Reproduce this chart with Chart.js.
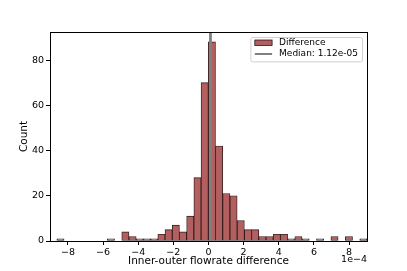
<!DOCTYPE html>
<html><head><meta charset="utf-8">
<script src="https://cdn.jsdelivr.net/npm/chart.js@4/dist/chart.umd.min.js"></script>
<style>html,body{margin:0;padding:0;background:#fff}canvas{display:block}</style>
</head><body>
<canvas id="c" width="407" height="271"></canvas>
<script>
// ---- data (x in units of 1e-4) ----
const binCenters = [-8.425,-8.015,-7.604,-7.194,-6.783,-6.373,-5.963,-5.552,-5.142,-4.731,
  -4.321,-3.911,-3.500,-3.090,-2.679,-2.269,-1.859,-1.448,-1.038,-0.627,
  -0.217,0.193,0.604,1.014,1.425,1.835,2.245,2.656,3.066,3.477,
  3.887,4.297,4.708,5.118,5.529,5.939,6.349,6.760,7.170,7.581,
  7.991,8.401,8.812];
const counts = [1,0,0,0,0,0,0,1,0,4,
  2,1,1,1,3,5,7,4,11,28,
  70,88,42,21,20,9,5,5,2,2,
  3,3,1,2,1,0,1,0,2,0,
  2,0,1];
const medianX = [0.112];
const xTicks = [-8,-6,-4,-2,0,2,4,6,8];
const yTicks = [0,20,40,60,80];
const xLimits = [-9.02, 9.02];
const yLimits = [0, 92.4];
const seriesLabels = ['Difference', 'Median: 1.12e-05'];
const xTitle = 'Inner-outer flowrate difference';
const yTitle = 'Count';
const xOffsetText = '1e\u22124';

const FONT = "'DejaVu Sans', sans-serif";
Chart.defaults.font.family = FONT;
Chart.defaults.font.size = 9;
Chart.defaults.color = '#000';

const BAR_FILL = '#b35f5f';
const BAR_EDGE = 'rgba(30,8,8,0.9)';
const MED_COLOR = '#808080';

const fmt = v => v < 0 ? '\u2212' + Math.abs(v) : String(v);

const framePlugin = {
  id: 'frame',
  afterDatasetsDraw(chart) {
    const {ctx, chartArea: a} = chart;
    ctx.save();
    ctx.strokeStyle = '#000';
    ctx.lineWidth = 1;
    ctx.strokeRect(Math.round(a.left) + 0.5, Math.round(a.top) + 0.5,
      Math.round(a.right) - Math.round(a.left), Math.round(a.bottom) - Math.round(a.top));
    ctx.restore();
  },
  afterDraw(chart) {
    const {ctx, chartArea: a} = chart;
    ctx.save();
    // offset text
    ctx.font = '9.5px ' + FONT;
    ctx.fillStyle = '#000';
    ctx.textAlign = 'right';
    ctx.textBaseline = 'middle';
    ctx.fillText(xOffsetText, a.right, 259.5);
    // legend
    ctx.font = '9px ' + FONT;
    const ds = chart.data.datasets;
    const entries = [ds[1], ds[0]];
    const textW = Math.max(...entries.map(d => ctx.measureText(d.label).width));
    const w = 4.4 + 17.3 + 7 + textW + 4;
    const h = 24.4;
    const x0 = a.right - 5 - w, y0 = a.top + 5;
    ctx.beginPath();
    if (ctx.roundRect) ctx.roundRect(x0 + 0.5, y0 + 0.5, w, h, 2); else ctx.rect(x0 + 0.5, y0 + 0.5, w, h);
    ctx.fillStyle = 'rgba(255,255,255,0.85)';
    ctx.fill();
    ctx.strokeStyle = '#d0d0d0';
    ctx.lineWidth = 1;
    ctx.stroke();
    const hx = x0 + 4.4, hw = 17.3;
    // patch
    ctx.fillStyle = BAR_FILL;
    ctx.fillRect(hx, y0 + 3, hw, 5.5);
    ctx.strokeStyle = BAR_EDGE;
    ctx.lineWidth = 0.8;
    ctx.strokeRect(hx, y0 + 3, hw, 5.5);
    // line
    ctx.strokeStyle = MED_COLOR;
    ctx.lineWidth = 2;
    ctx.beginPath();
    ctx.moveTo(hx, y0 + 17);
    ctx.lineTo(hx + hw, y0 + 17);
    ctx.stroke();
    ctx.fillStyle = '#000';
    ctx.textAlign = 'left';
    ctx.fillText(entries[0].label, hx + hw + 7, y0 + 5.6);
    ctx.fillText(entries[1].label, hx + hw + 7, y0 + 17);
    ctx.restore();
  }
};

new Chart(document.getElementById('c'), {
  type: 'bar',
  data: {
    datasets: [
      {
        type: 'line',
        label: seriesLabels[1],
        data: [{x: medianX[0], y: yLimits[0]}, {x: medianX[0], y: yLimits[1]}],
        borderColor: MED_COLOR,
        borderWidth: 2.8,
        pointRadius: 0,
        order: 0
      },
      {
        type: 'bar',
        label: seriesLabels[0],
        data: binCenters.map((x, i) => ({x: x, y: counts[i]})),
        backgroundColor: BAR_FILL,
        borderColor: BAR_EDGE,
        borderWidth: 0.9,
        borderSkipped: false,
        barPercentage: 1,
        categoryPercentage: 1,
        order: 1
      }
    ]
  },
  options: {
    responsive: false,
    animation: false,
    layout: {padding: {top: 32, right: 40, left: 0, bottom: 0}},
    plugins: {legend: {display: false}, tooltip: {enabled: false}},
    scales: {
      x: {
        type: 'linear',
        min: xLimits[0], max: xLimits[1],
        offset: false,
        grid: {offset: false, drawOnChartArea: false, drawTicks: true, tickLength: 4, tickColor: '#000'},
        border: {display: false},
        ticks: {padding: 2, maxRotation: 0, autoSkip: false, callback: fmt, font: {size: 9.5}},
        title: {display: true, text: xTitle, padding: {top: 0, bottom: 3.7}, font: {size: 10.5}},
        afterBuildTicks: s => { s.ticks = xTicks.map(v => ({value: v})); },
        afterFit: s => { s.height = 30; }
      },
      y: {
        type: 'linear',
        min: yLimits[0], max: yLimits[1],
        grid: {drawOnChartArea: false, drawTicks: true, tickLength: 4, tickColor: '#000'},
        border: {display: false},
        ticks: {padding: 2, callback: fmt, font: {size: 9.5}},
        title: {display: true, text: yTitle, padding: {top: 18, bottom: 0}, font: {size: 10.5}},
        afterBuildTicks: s => { s.ticks = yTicks.map(v => ({value: v})); },
        afterFit: s => { s.width = 50; }
      }
    }
  },
  plugins: [framePlugin]
});
</script>
</body></html>
